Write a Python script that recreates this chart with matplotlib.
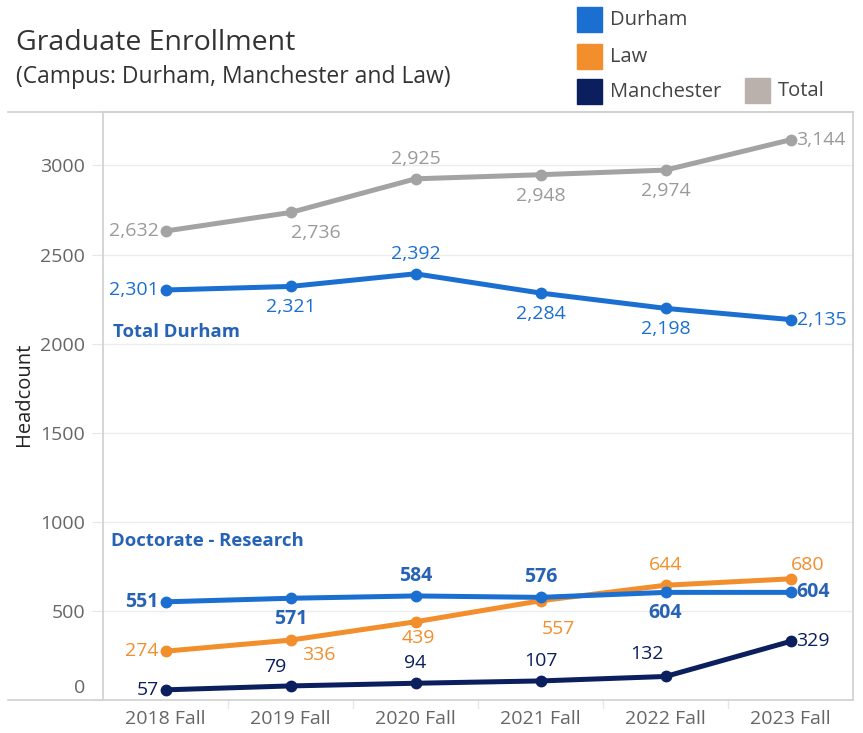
import matplotlib.pyplot as plt
from matplotlib.patches import Rectangle
from matplotlib.lines import Line2D
import matplotlib.transforms as mtrans

plt.rcParams['font.family'] = ['Open Sans', 'DejaVu Sans']

years = ['2018 Fall', '2019 Fall', '2020 Fall', '2021 Fall', '2022 Fall', '2023 Fall']
total = [2632, 2736, 2925, 2948, 2974, 3144]
total_durham = [2301, 2321, 2392, 2284, 2198, 2135]
doctorate = [551, 571, 584, 576, 604, 604]
law = [274, 336, 439, 557, 644, 680]
manchester = [57, 79, 94, 107, 132, 329]

c_total = '#a3a3a3'
c_durham = '#1b6fd0'
c_doc_lbl = '#2663b4'
c_law = '#f28e2b'
c_man = '#0b1f5e'

# label placement: left / right / above / below or pixel offset
L, B, A, R = 'left', 'below', 'above', 'right'
pos_total = [L, (25, -21), A, B, B, R]
pos_tdur = [L, B, A, B, B, R]
pos_doc = [L, B, A, A, B, R]
pos_law = [L, (28, -15), (3, -16), (18, -28), A, (17, 14)]
pos_man = [L, (-15, 19), A, A, (-19, 22), R]

fig = plt.figure(figsize=(8.63, 7.33), dpi=100)
ax = fig.add_axes([103 / 863, 33 / 733, 750 / 863, 588 / 733])
x = list(range(len(years)))


def draw(vals, color, pos, lblcolor, weight='normal', size=14):
    ax.plot(x, vals, color=color, lw=3.6, marker='o', ms=7.5, solid_capstyle='round', zorder=3)
    for xi, v, p in zip(x, vals, pos):
        txt = f'{v:,}'
        if p == L:
            off, ha = (-7, 0), 'right'
        elif p == R:
            off, ha = (6, 0), 'left'
        elif p == A:
            off, ha = (0, 20), 'center'
        elif p == B:
            off, ha = (0, -21), 'center'
        else:
            off, ha = p, 'center'
        ax.annotate(txt, (xi, v), xytext=off, textcoords='offset pixels',
                    ha=ha, va='center', color=lblcolor, fontsize=size,
                    fontweight=weight, zorder=4)


draw(total, c_total, pos_total, '#9a9a9a')
draw(total_durham, c_durham, pos_tdur, c_durham)
draw(law, c_law, pos_law, c_law)
draw(doctorate, c_durham, pos_doc, c_doc_lbl, weight='bold', size=14)
draw(manchester, c_man, pos_man, c_man)

ax.text(-0.42, 2067, 'Total Durham', color=c_doc_lbl, fontsize=13.3, fontweight='bold', va='center')
ax.text(-0.44, 890, 'Doctorate - Research', color=c_doc_lbl, fontsize=13.3, fontweight='bold', va='center')

ax.set_xlim(-0.5, 5.5)
ax.set_ylim(0, 3300)
ax.set_xticks(x)
ax.set_xticklabels(years)
ax.set_yticks([0, 500, 1000, 1500, 2000, 2500, 3000])
ax.tick_params(axis='y', length=8, color='#e6e6e6', labelcolor='#666666', labelsize=14, pad=5)
ax.tick_params(axis='x', length=0, labelcolor='#666666', labelsize=14, pad=7)
ax.grid(axis='y', color='#ececec', lw=1)
ax.set_axisbelow(True)
for s in ax.spines.values():
    s.set_color('#d0d0d0')
    s.set_linewidth(1.2)
ax.set_ylabel('Headcount', fontsize=14.5, color='#222222')
ax.yaxis.set_label_coords(-0.092, 0.52)

# the zero label sits a little above its gridline
zero_lbl = ax.get_yticklabels()[0]
zero_lbl.set_transform(zero_lbl.get_transform() + mtrans.ScaledTranslation(0, 14 / 100, fig.dpi_scale_trans))

# category separators under the axis
for xi in x[1:]:
    ax.add_line(Line2D([xi - 0.5, xi - 0.5], [0, -45], color='#e6e6e6', lw=1, clip_on=False))

# top border extending to the left
fig.add_artist(Line2D([8 / 863, 853 / 863], [1 - 112 / 733] * 2, color='#d0d0d0', lw=1.2))
fig.add_artist(Line2D([8 / 863, 103 / 863], [1 - 700 / 733] * 2, color='#d0d0d0', lw=1.2))

fig.text(16 / 863, 1 - 43 / 733, 'Graduate Enrollment', fontsize=20.5, color='#333333', va='center')
fig.text(16 / 863, 1 - 77 / 733, '(Campus: Durham, Manchester and Law)', fontsize=16.5, color='#333333', va='center')

# legend
leg = [('Durham', c_durham, 577, 20), ('Law', '#f28e2b', 577, 57),
       ('Manchester', '#0b1f5e', 577, 92), ('Total', '#bab0ac', 745, 91)]
for name, col, px, py in leg:
    fig.add_artist(Rectangle((px / 863, 1 - (py + 12) / 733), 25 / 863, 25 / 733,
                             color=col, transform=fig.transFigure))
    fig.text((px + 33) / 863, 1 - py / 733, name, fontsize=14.5, color='#444444', va='center')

fig.savefig('out.png', dpi=100)
